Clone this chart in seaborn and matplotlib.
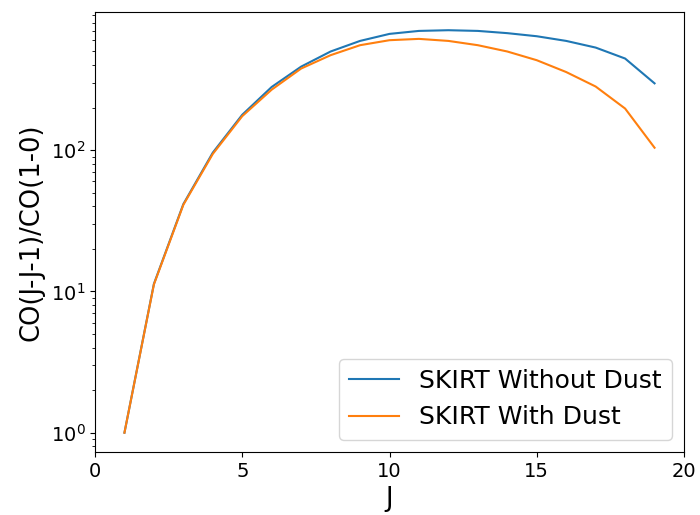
import numpy as np
import pandas as pd
import matplotlib
matplotlib.use("Agg")
import matplotlib.pyplot as plt
import seaborn as sns

J = list(range(1, 20))
without_dust = [1.0, 11.3, 41.5, 96, 178, 280, 390, 499, 593, 665, 698, 706, 698, 673, 640, 593, 532, 445, 297]
with_dust = [1.0, 11.2, 41.0, 94, 174, 268, 378, 470, 553, 600, 613, 593, 553, 499, 433, 357, 282, 197, 104]
series_names = ["SKIRT Without Dust", "SKIRT With Dust"]

df = pd.concat([
    pd.DataFrame({"J": J, "ratio": without_dust, "series": series_names[0]}),
    pd.DataFrame({"J": J, "ratio": with_dust, "series": series_names[1]}),
])

# plain matplotlib look (black text and ticks)
plt.rcParams["font.family"] = ["DejaVu Sans"]

fig = plt.figure(figsize=(7, 5.15), dpi=100)
ax = fig.add_axes([95 / 700, 1 - 452 / 515, (684 - 95) / 700, (452 - 12) / 515])
sns.lineplot(data=df, x="J", y="ratio", hue="series", hue_order=series_names,
             palette=["#1f77b4", "#ff7f0e"], ax=ax, linewidth=1.5)
ax.set_yscale("log")
ax.set_xlim(0, 20)
ax.set_ylim(0.73, 950)
ax.set_xticks([0, 5, 10, 15, 20])
ax.tick_params(labelsize=14)
ax.set_xlabel("J", fontsize=18.5)
ax.set_ylabel("CO(J-J-1)/CO(1-0)", fontsize=18.5)
ax.legend(loc="lower right", fontsize=18, title=None)
fig.savefig("out.png", dpi=100)
